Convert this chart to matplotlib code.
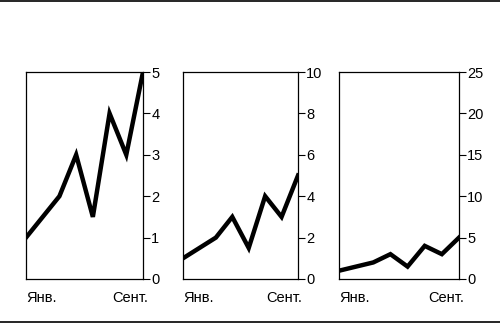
import matplotlib
matplotlib.use("Agg")
import matplotlib.pyplot as plt
from matplotlib.lines import Line2D

plt.rcParams['font.family'] = ['Liberation Sans', 'DejaVu Sans']

months = [0, 1, 2, 3, 4, 5, 6, 7]
values = [1, 1.5, 2, 3, 1.5, 4, 3, 5]
x_labels = ["Янв.", "Сент."]
y_limits = [5, 10, 25]
y_steps = [1, 2, 5]

# axes boxes in figure pixels (left, width)
boxes = [(26, 117), (183, 115), (339, 120)]

fig = plt.figure(figsize=(5, 3.34), dpi=100)

for (left, width), ymax, step in zip(boxes, y_limits, y_steps):
    ax = fig.add_axes([left / 500, 55 / 334, width / 500, 207 / 334])
    ax.plot(months, values, color="black", lw=3.2, solid_joinstyle="miter")
    ax.set_xlim(0, 7)
    ax.set_ylim(0, ymax)
    ax.set_xticks([])
    ax.set_yticks(range(0, ymax + 1, step))
    ax.yaxis.tick_right()
    ax.tick_params(axis="y", length=5, width=0.8, pad=1, labelsize=10.5)
    for s in ax.spines.values():
        s.set_linewidth(0.9)
    ax.text(0, -0.06, x_labels[0], transform=ax.transAxes,
            ha="left", va="top", fontsize=10.5)
    ax.text(1.04, -0.06, x_labels[1], transform=ax.transAxes,
            ha="right", va="top", fontsize=10.5)

# rules at top and bottom
fig.add_artist(Line2D([0, 1], [0.997, 0.997], color="black", lw=1.2))
fig.add_artist(Line2D([0, 1], [1 - 322 / 334, 1 - 322 / 334], color="black", lw=1.2))

fig.savefig("out.png", dpi=100)
